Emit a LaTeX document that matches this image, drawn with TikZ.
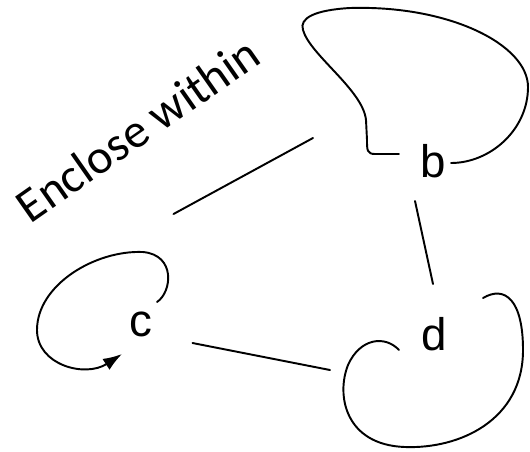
\documentclass[tikz,border=0pt]{standalone}
\usepackage{fontspec}
\setmainfont{Liberation Sans}
\newfontfamily\notefont{Carlito}
\usetikzlibrary{arrows.meta}

\begin{document}
\begin{tikzpicture}[x=0.02cm,y=-0.02cm,
  letter/.style={inner sep=0pt,anchor=base,font=\fontsize{26}{30}\selectfont},
  link/.style={draw,line width=1.1pt,line cap=round},
  note/.style={inner sep=0pt,anchor=base,rotate=35,font=\notefont\fontsize{27.5}{32}\selectfont}]
\useasboundingbox (0,0) rectangle (530,451);
\node[letter] (b) at (433,177) {b};
\node[letter] (c) at (140.5,336) {c};
\node[letter] (d) at (434,350) {d};
\node[note] (label) at (147,143) {Enclose within};
% edges
\path[link] ([shift={(-120,-39)}]b.base) -- ([shift={(33,-122)}]c.base);
\path[link] ([shift={(-18,24)}]b.base) -- ([shift={(-1,-66)}]d.base);
\path[link] ([shift={(52,7)}]c.base) -- ([shift={(-104,20)}]d.base);
% loops
\path[link] ([shift={(-34,-23)}]b.base) -- (375,154) .. controls (367,154) and (367,150) .. (367,140)
  -- (366,120) .. controls (363,90) and (310,55) .. (303,30)
  .. controls (299,18) and (315,10) .. (350,8)
  .. controls (450,5) and (528,45) .. (528,87)
  .. controls (528,130) and (490,163) .. ([shift={(18,-14)}]b.base);
\path[link,-{Latex[length=0.38cm,width=0.26cm]}] ([shift={(16.5,-34)}]c.base)
  .. controls (172,292) and (176,255) .. (143,252)
  .. controls (95,250) and (37,285) .. (37,330)
  .. controls (37,365) and (85,378) .. ([shift={(-18.5,18)}]c.base);
\path[link] ([shift={(-35,0)}]d.base) .. controls (385,335) and (360,338) .. (348,365)
  .. controls (336,395) and (345,445) .. (405,447)
  .. controls (460,449) and (523,420) .. (523,350)
  .. controls (523,300) and (505,285) .. ([shift={(49,-52)}]d.base);
\end{tikzpicture}
\end{document}
